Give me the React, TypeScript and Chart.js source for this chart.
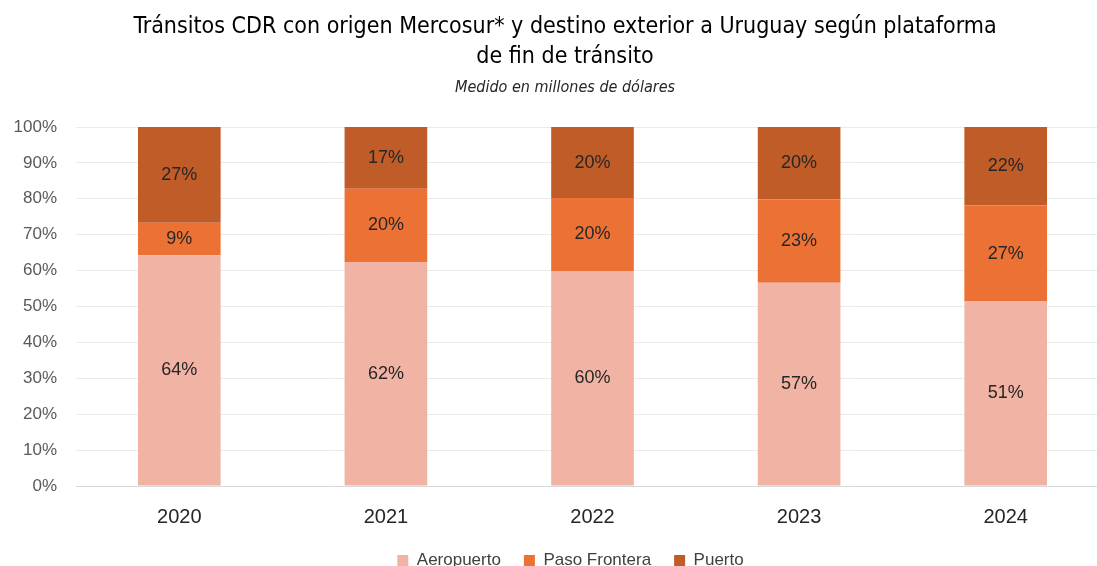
import React, { useEffect, useRef } from "react";
import { Chart, registerables } from "chart.js";

Chart.register(...registerables);

const years = ["2020", "2021", "2022", "2023", "2024"];
const aeropuerto = [64.3, 62.4, 59.9, 56.6, 51.4];
const pasoFrontera = [9.0, 20.4, 20.3, 23.2, 26.7];
const puerto = [26.7, 17.2, 19.8, 20.2, 21.9];
const yTicks = [0, 10, 20, 30, 40, 50, 60, 70, 80, 90, 100];

const titleLines = [
  "Tránsitos CDR con origen Mercosur* y destino exterior a Uruguay según plataforma",
  "de fin de tránsito",
];
const subtitleText = "Medido en millones de dólares";

const TITLE_FONT = "'Liberation Sans Narrow', 'DejaVu Sans Condensed', sans-serif";

const labelPlugin = {
  id: "segLabels",
  afterDatasetsDraw(chart: any) {
    const ctx = chart.ctx;
    ctx.save();
    ctx.font = "18px 'Liberation Sans', Arial, sans-serif";
    ctx.fillStyle = "#262626";
    ctx.textAlign = "center";
    ctx.textBaseline = "middle";
    chart.data.datasets.forEach((ds: any, i: number) => {
      const meta = chart.getDatasetMeta(i);
      meta.data.forEach((el: any, j: number) => {
        const v = ds.data[j];
        const y = (el.y + el.base) / 2;
        ctx.fillText(Math.round(v) + "%", el.x, y);
      });
    });
    ctx.restore();
  },
};

const titlePlugin = {
  id: "customTitle",
  afterDraw(chart: any) {
    const ctx = chart.ctx;
    const cx = 565;
    ctx.save();
    ctx.textAlign = "center";
    ctx.textBaseline = "middle";
    ctx.fillStyle = "#000000";
    ctx.font = `23px ${TITLE_FONT}`;
    ctx.fillText(titleLines[0], cx, 27);
    ctx.fillText(titleLines[1], cx, 57);
    ctx.fillStyle = "#262626";
    ctx.font = `italic 16px ${TITLE_FONT}`;
    ctx.fillText(subtitleText, cx, 88);
    ctx.restore();
  },
};

const legendShift = {
  id: "legendShift",
  afterLayout(chart: any) {
    const lg = chart.legend;
    if (!lg) return;
    lg.left += 12;
    lg.right += 12;
    lg.top -= 11;
    lg.bottom -= 11;
  },
};

export default function App() {
  const ref = useRef<HTMLCanvasElement>(null);
  useEffect(() => {
    if (!ref.current) return;
    const chart = new Chart(ref.current, {
      type: "bar",
      data: {
        labels: years,
        datasets: [
          { label: "Aeropuerto", data: aeropuerto, backgroundColor: "#F1B3A3" },
          { label: "Paso Frontera", data: pasoFrontera, backgroundColor: "#EB7234" },
          { label: "Puerto", data: puerto, backgroundColor: "#C05C28" },
        ],
      },
      options: {
        animation: false,
        responsive: false,
        layout: { padding: { left: 8, right: 39, top: 127, bottom: 0 } },
        datasets: { bar: { categoryPercentage: 1, barPercentage: 0.4 } },
        scales: {
          x: {
            stacked: true,
            grid: { display: false },
            border: { color: "#D9D9D9", width: 1 },
            ticks: {
              color: "#262626",
              font: { family: "'Liberation Sans', Arial, sans-serif", size: 20 },
              padding: 11,
            },
          },
          y: {
            stacked: true,
            min: 0,
            max: 100,
            afterBuildTicks: (axis: any) => {
              axis.ticks = yTicks.map((v) => ({ value: v }));
            },
            afterFit: (axis: any) => {
              axis.width = 68;
            },
            grid: { color: "#EBEBEB", drawTicks: false },
            border: { display: false },
            ticks: {
              color: "#595959",
              font: { family: "'Liberation Sans', Arial, sans-serif", size: 17 },
              padding: 19,
              callback: (v: any) => v + "%",
            },
          },
        },
        plugins: {
          title: { display: false },
          subtitle: { display: false },
          legend: {
            position: "bottom",
            labels: {
              boxWidth: 11,
              boxHeight: 11,
              color: "#404040",
              font: { family: "'Liberation Sans', Arial, sans-serif", size: 17 },
              padding: 23,
            },
          },
          tooltip: { enabled: false },
        },
      },
      plugins: [labelPlugin, titlePlugin, legendShift],
    });
    return () => chart.destroy();
  }, []);
  return (
    <div style={{ position: "fixed", left: 0, top: 0, width: 1097, height: 566, overflow: "hidden", background: "#fff" }}>
      <canvas ref={ref} width={1148} height={590} style={{ display: "block" }} />
    </div>
  );
}
